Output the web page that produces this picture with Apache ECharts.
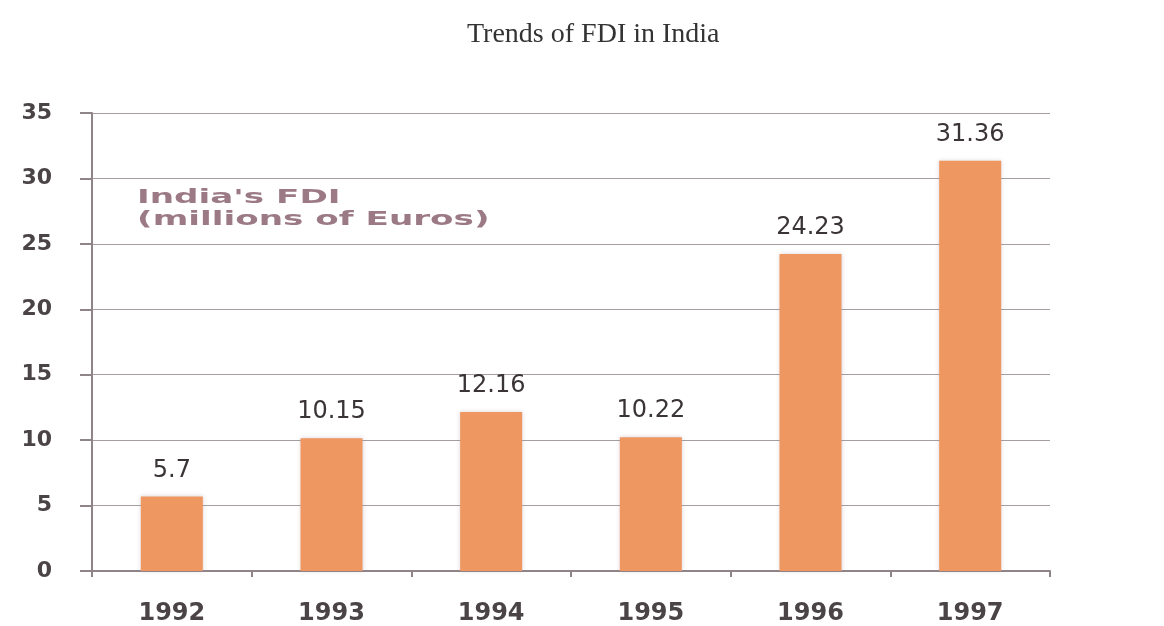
<!DOCTYPE html>
<html>
<head>
<meta charset="utf-8">
<script src="https://cdn.jsdelivr.net/npm/echarts@6/dist/echarts.min.js"></script>
<style>
  html, body { margin: 0; padding: 0; background: #fff; }
  #main { width: 1164px; height: 626px; }
</style>
</head>
<body>
<div id="main"></div>
<script>
// FDI in India, millions of euros
const years = ['1992', '1993', '1994', '1995', '1996', '1997'];
const fdi = [5.7, 10.15, 12.16, 10.22, 24.23, 31.36];
const yTicks = { min: 0, max: 35, step: 5 };

let chart = echarts.init(document.getElementById('main'));

let axisGray = '#8f8589';
let option = {
    backgroundColor: '#fff',
    title: {
        text: 'Trends of FDI in India',
        left: 462,
        top: 16,
        textStyle: {
            fontFamily: 'Liberation Serif',
            fontWeight: 'normal',
            fontSize: 28,
            color: '#333'
        }
    },
    grid: {
        left: 92,
        right: 114,
        top: 113,
        bottom: 53
    },
    xAxis: {
        type: 'category',
        data: years,
        axisLine: { lineStyle: { color: axisGray, width: 2 } },
        axisTick: { show: true, length: 6, lineStyle: { color: axisGray, width: 2 } },
        axisLabel: {
            margin: 31,
            fontFamily: 'DejaVu Sans',
            fontWeight: 'bold',
            fontSize: 24,
            color: '#4a4446'
        }
    },
    yAxis: {
        type: 'value',
        min: yTicks.min,
        max: yTicks.max,
        interval: yTicks.step,
        axisLine: { show: true, lineStyle: { color: axisGray, width: 2 } },
        axisTick: { show: true, length: 12, lineStyle: { color: axisGray, width: 2 } },
        splitLine: { lineStyle: { color: '#a69ea2', width: 1 } },
        axisLabel: {
            margin: 40,
            fontFamily: 'DejaVu Sans',
            fontWeight: 'bold',
            fontSize: 22,
            color: '#4a4446'
        }
    },
    graphic: [{
        type: 'text',
        left: 137,
        top: 187,
        scaleX: 1.8,
        style: {
            text: "India's FDI\n(millions of Euros)",
            font: 'bold 19px "DejaVu Sans"',
            lineHeight: 22,
            fill: '#9c7a85'
        }
    }],
    series: [{
        name: "India's FDI",
        type: 'bar',
        data: fdi,
        barWidth: 62,
        itemStyle: {
            color: '#ee9761',
            shadowColor: 'rgba(150, 120, 140, 0.35)',
            shadowBlur: 4
        },
        label: {
            show: true,
            position: 'top',
            distance: 14,
            fontFamily: 'DejaVu Sans',
            fontSize: 24,
            color: '#3a3436'
        }
    }]
};

chart.setOption(option);
</script>
</body>
</html>
